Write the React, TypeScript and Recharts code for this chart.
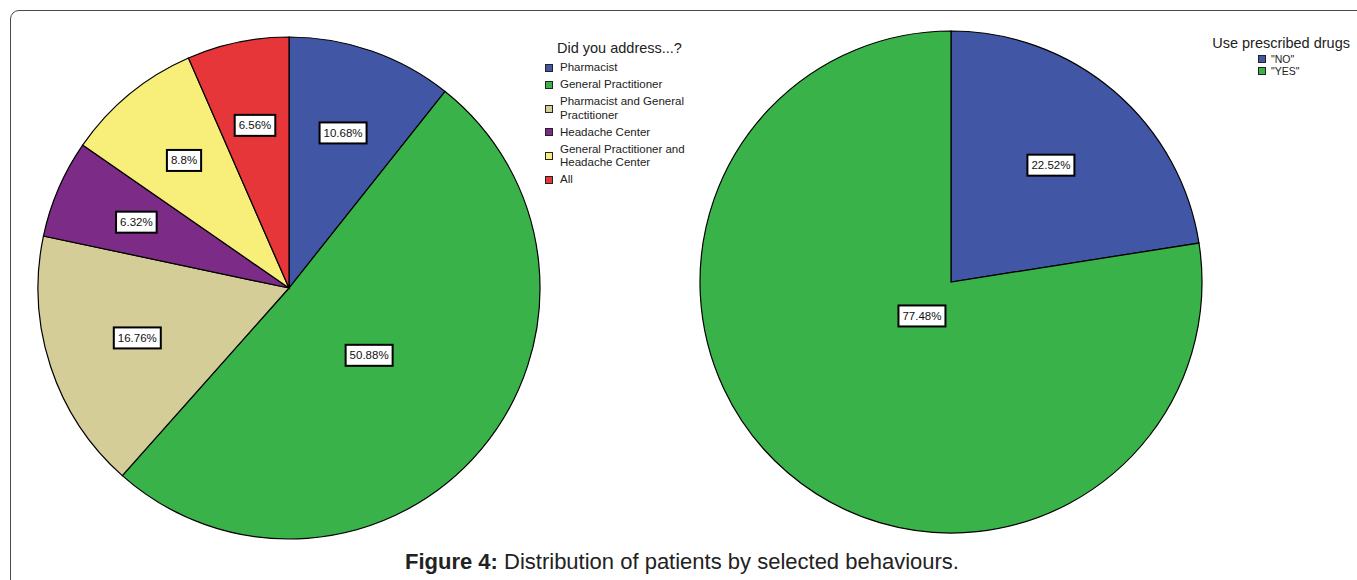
import { PieChart, Pie, Cell } from 'recharts';

const ADDRESS_CATEGORIES = [
  'Pharmacist',
  'General Practitioner',
  'Pharmacist and General Practitioner',
  'Headache Center',
  'General Practitioner and Headache Center',
  'All',
];
const ADDRESS_VALUES = [10.68, 50.88, 16.76, 6.32, 8.8, 6.56];

const DRUG_CATEGORIES = ['"NO"', '"YES"'];
const DRUG_VALUES = [22.52, 77.48];

const ADDRESS_COLORS = ['#4157A6', '#3AB24A', '#D4CD98', '#7C2B87', '#F7EF7A', '#E7363A'];
const DRUG_COLORS = ['#4157A6', '#3AB24A'];

const FONT = '"Liberation Sans", Arial, sans-serif';
const RADIUS = 251;
const RAD = Math.PI / 180;

const addressData = ADDRESS_CATEGORIES.map((name, i) => ({ name, value: ADDRESS_VALUES[i] }));
const drugData = DRUG_CATEGORIES.map((name, i) => ({ name, value: DRUG_VALUES[i] }));

// rough Arial advance widths at 1em
const textWidth = (s: string, size: number) => {
  let w = 0;
  for (const ch of s) {
    if (ch === '%') w += 0.889;
    else if (ch === '.') w += 0.278;
    else w += 0.556;
  }
  return w * size;
};

// SPSS puts the value box on the centroid of the slice
const renderLabel = (props: any) => {
  const { cx, cy, midAngle, outerRadius, startAngle, endAngle, value } = props;
  const theta = Math.abs(endAngle - startAngle) * RAD;
  const half = theta / 2;
  const r = (2 / 3) * outerRadius * Math.sin(half) / half;
  const x = cx + r * Math.cos(midAngle * RAD);
  const y = cy - r * Math.sin(midAngle * RAD);
  const text = `${value}%`;
  const w = textWidth(text, 11.5) + 8;
  const h = 21;
  return (
    <g>
      <rect x={x - w / 2} y={y - h / 2} width={w} height={h} fill="#fff" stroke="#000" strokeWidth={2} />
      <text x={x} y={y + 4} textAnchor="middle" fontSize={11.5} fontFamily={FONT} fill="#111">
        {text}
      </text>
    </g>
  );
};

const Swatch = ({ color, size }: { color: string; size: number }) => (
  <span
    style={{
      display: 'inline-block',
      width: size,
      height: size,
      background: color,
      border: '1px solid #222',
      boxSizing: 'border-box',
      flexShrink: 0,
    }}
  />
);

export default function App() {
  return (
    <div
      style={{
        position: 'absolute',
        left: 0,
        top: 0,
        width: 1357,
        height: 580,
        overflow: 'hidden',
        background: '#fff',
        fontFamily: FONT,
      }}
    >
      <div
        style={{
          position: 'absolute',
          left: 10,
          top: 10,
          width: 1420,
          height: 640,
          border: '1.5px solid #4a4a4a',
          borderRadius: 9,
        }}
      />
      <div style={{ position: 'absolute', left: 0, top: 0 }}>
        <PieChart width={1357} height={580} margin={{ top: 0, right: 0, bottom: 0, left: 0 }}>
          <Pie
            data={addressData}
            dataKey="value"
            nameKey="name"
            cx={289}
            cy={288}
            outerRadius={RADIUS}
            startAngle={90}
            endAngle={-270}
            stroke="#000"
            strokeWidth={1.2}
            label={renderLabel}
            labelLine={false}
            isAnimationActive={false}
          >
            {addressData.map((d, i) => (
              <Cell key={d.name} fill={ADDRESS_COLORS[i]} />
            ))}
          </Pie>
          <Pie
            data={drugData}
            dataKey="value"
            nameKey="name"
            cx={951}
            cy={282}
            outerRadius={RADIUS}
            startAngle={90}
            endAngle={-270}
            stroke="#000"
            strokeWidth={1.2}
            label={renderLabel}
            labelLine={false}
            isAnimationActive={false}
          >
            {drugData.map((d, i) => (
              <Cell key={d.name} fill={DRUG_COLORS[i]} />
            ))}
          </Pie>
        </PieChart>
      </div>

      {/* left legend */}
      <div style={{ position: 'absolute', left: 545, top: 40, width: 160, color: '#222' }}>
        <div style={{ fontSize: 14.5, lineHeight: '17px', marginLeft: 12, marginBottom: 4 }}>
          Did you address...?
        </div>
        {ADDRESS_CATEGORIES.map((c, i) => (
          <div key={c} style={{ display: 'flex', alignItems: 'center', marginBottom: 3.5 }}>
            <Swatch color={ADDRESS_COLORS[i]} size={8} />
            <span style={{ fontSize: 11.5, lineHeight: '13.5px', marginLeft: 7, width: 140 }}>{c}</span>
          </div>
        ))}
      </div>

      {/* right legend */}
      <div style={{ position: 'absolute', left: 1200, top: 35, width: 150, color: '#222' }}>
        <div style={{ fontSize: 14.5, lineHeight: '17px', textAlign: 'right' }}>Use prescribed drugs</div>
        <div style={{ marginLeft: 58, marginTop: 1 }}>
          {DRUG_CATEGORIES.map((c, i) => (
            <div key={c} style={{ display: 'flex', alignItems: 'center', height: 12 }}>
              <Swatch color={DRUG_COLORS[i]} size={8} />
              <span style={{ fontSize: 10.5, lineHeight: '12px', marginLeft: 5 }}>{c}</span>
            </div>
          ))}
        </div>
      </div>

      {/* caption */}
      <div
        style={{
          position: 'absolute',
          left: 0,
          width: 1364,
          top: 549,
          textAlign: 'center',
          fontSize: 22,
          lineHeight: '26px',
          color: '#222',
        }}
      >
        <b>Figure 4:</b> Distribution of patients by selected behaviours.
      </div>
    </div>
  );
}
